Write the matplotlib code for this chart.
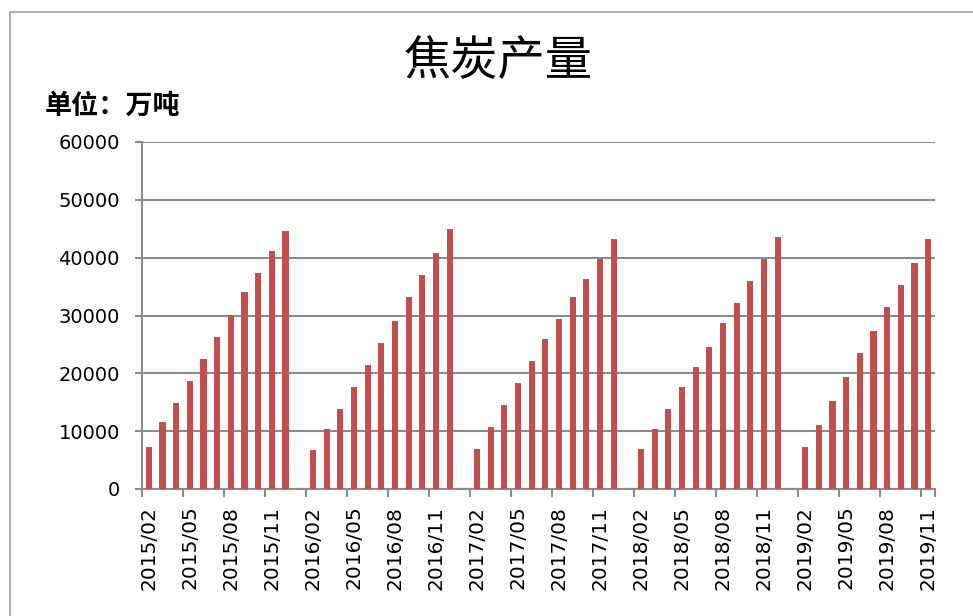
"""焦炭产量 monthly bar chart -> out.png"""

import matplotlib

matplotlib.use("Agg")
import matplotlib.pyplot as plt
from matplotlib.patches import Rectangle

plt.rcParams["font.family"] = ["DejaVu Sans", "Noto Sans CJK SC"]

# --- data (万吨, cumulative production, Feb..Dec each year) ------------
years = [2015, 2016, 2017, 2018, 2019]
v2015 = [7300, 11500, 14950, 18750, 22550, 26350, 30050, 34000, 37400, 41200, 44650]
v2016 = [6700, 10400, 13850, 17650, 21500, 25250, 29100, 33150, 37000, 40750, 44950]
v2017 = [6950, 10750, 14600, 18400, 22200, 26000, 29350, 33200, 36300, 39850, 43250]
v2018 = [6950, 10400, 13850, 17650, 21150, 24600, 28700, 32200, 36000, 39850, 43550]
v2019 = [7300, 11150, 15200, 19450, 23550, 27350, 31500, 35300, 39100, 43200]
series = [v2015, v2016, v2017, v2018, v2019]

# category axis: every month from 2015/02 to 2019/11 (January has no value)
labels, values = [], []
for yr, vals in zip(years, series):
    first = 2 if yr == years[0] else 1
    for m in range(first, 13):
        if yr == years[-1] and m > 11:
            break
        labels.append(f"{yr}/{m:02d}")
        values.append(None if m == 1 else vals[m - 2])

x = list(range(len(labels)))
bar_x = [i for i, v in zip(x, values) if v is not None]
bar_v = [v for v in values if v is not None]

fig = plt.figure(figsize=(9.73, 6.16), dpi=100)
ax = fig.add_axes([142 / 973, 1 - 489 / 616, (935 - 142) / 973, (489 - 142) / 616])

ax.bar(bar_x, bar_v, width=0.45, color="#C0504D", zorder=3)

ax.set_xlim(-0.5, len(labels) - 0.5)
ax.set_ylim(0, 60000)
ax.set_yticks(range(0, 60001, 10000))
ax.yaxis.grid(True, color="#8C8C8C", lw=1.5)
ax.set_axisbelow(True)

# ticks on category boundaries, labels every 3rd category centred
ax.set_xticks([i - 0.5 for i in x[::3]] + [len(labels) - 0.5])
ax.set_xticklabels([])
ax.set_xticks(x[::3], minor=True)
ax.set_xticklabels(labels[::3], minor=True, rotation=90, fontsize=14.5)
ax.tick_params(axis="x", which="major", length=6, color="#8C8C8C", width=1.5)
ax.tick_params(axis="x", which="minor", length=0, pad=12)
ax.tick_params(axis="y", length=5, color="#8C8C8C", width=1.5, labelsize=14, pad=11)

for s in ("top", "right"):
    ax.spines[s].set_visible(False)
for s in ("left", "bottom"):
    ax.spines[s].set_color("#8C8C8C")
    ax.spines[s].set_linewidth(1.5)

fig.text(498 / 973, 1 - 62 / 616, "焦炭产量", ha="center", va="center",
         fontsize=34, family=["Noto Sans CJK SC", "DejaVu Sans"])
fig.text(45 / 973, 1 - 106 / 616, "单位：万吨", ha="left", va="center",
         fontsize=19.5, fontweight="bold", family=["Noto Sans CJK SC", "DejaVu Sans"])

# outer chart frame of the screenshot
fig.patches.append(Rectangle((10 / 973, -0.1), 1.2, 1.1 - 12 / 616,
                             transform=fig.transFigure, fill=False,
                             edgecolor="#A0A0A0", lw=1.2))

fig.savefig("out.png", dpi=100)
plt.close(fig)
